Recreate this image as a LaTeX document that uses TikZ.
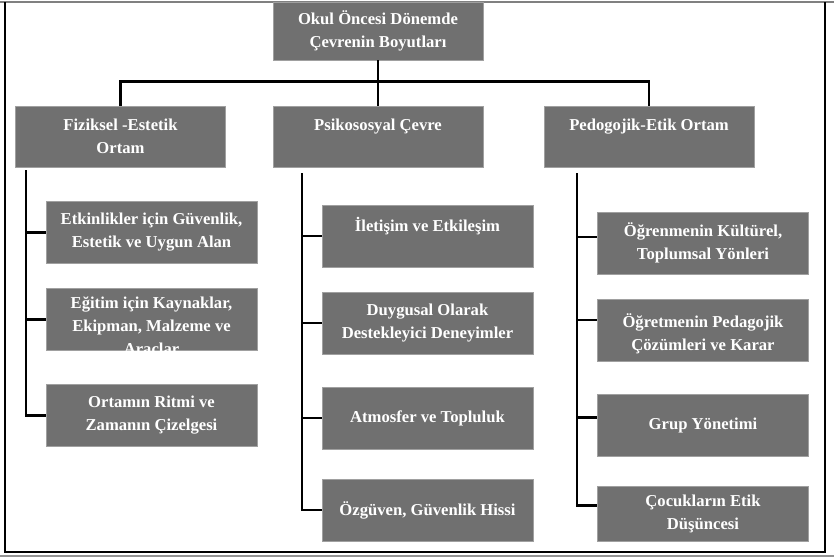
\documentclass[tikz,border=0pt]{standalone}
\usepackage{fontspec}
\setmainfont{Liberation Serif}
\usetikzlibrary{calc}
\definecolor{cajagris}{RGB}{112,112,112}
\definecolor{bordegris}{RGB}{160,160,160}
\definecolor{letrablanca}{RGB}{255,255,255}
\begin{document}
\begin{tikzpicture}[x=0.03cm,y=-0.03cm,
  caja/.style={fill=cajagris,draw=bordegris,line width=0.6pt,text=letrablanca,align=center,
    font=\bfseries\fontsize{14.2}{19.6}\selectfont,inner sep=0pt,
    minimum width=6.3cm,minimum height=1.83cm},
  cajab/.style={caja,minimum width=6.33cm,minimum height=1.86cm},
  texto/.style={text=letrablanca,align=center,font=\bfseries\fontsize{14.2}{19.6}\selectfont,inner sep=0pt},
  linea/.style={line width=2.3pt,black}]
\useasboundingbox (0,0) rectangle (834,557);
% marco
\draw[line width=1.5pt,gray] (0,2) -- (834,2);
\draw[line width=1.5pt,gray!85] (0,556) -- (834,556);
\draw[line width=1.3pt] (5,2) -- (5,552) -- (825,552) -- (825,2);
% nivel 1 y 2
\node[caja,minimum height=1.74cm] (okul) at (378,31) {Okul Öncesi Dönemde\\Çevrenin Boyutları};
\node[caja] (fiz) at (120.5,136.5) {Fiziksel -Estetik\\Ortam};
\node[caja] (psi) at (378,136.5) {Psikososyal Çevre\\\mbox{}};
\node[caja] (ped) at (649,136.5) {Pedogojik-Etik Ortam\\\mbox{}};
\draw[linea] (okul.south) -- (psi.north);
\draw[linea] (fiz.north) -- ++(0,-24) -| (ped.north);
% nivel 3
\node[cajab] (f1) at (151.5,232.5) {Etkinlikler için Güvenlik,\\Estetik ve Uygun Alan};
\node[cajab] (f2) at (151.5,319.5) {};
\node[texto] (f2t) at (151.5,327) {Eğitim için Kaynaklar,\\Ekipman, Malzeme ve\\Araçlar};
\node[cajab] (f3) at (151.5,415.5) {Ortamın Ritmi ve\\Zamanın Çizelgesi};
\node[cajab] (s1) at (427.5,236) {İletişim ve Etkileşim\\\mbox{}};
\node[cajab] (s2) at (427.5,323) {Duygusal Olarak\\Destekleyici Deneyimler};
\node[cajab] (s3) at (427.5,418) {Atmosfer ve Topluluk};
\node[cajab] (s4) at (427.5,510) {Özgüven, Güvenlik Hissi};
\node[cajab] (p1) at (703,243) {Öğrenmenin Kültürel,\\Toplumsal Yönleri};
\node[cajab] (p2) at (703,330) {};
\node[texto] (p2t) at (703,344) {Öğretmenin Pedagojik\\Çözümleri ve Karar\\Verme};
\node[cajab] (p3) at (703,425.5) {Grup Yönetimi};
\node[cajab,minimum height=1.65cm] (p4) at (703,513.5) {Çocukların Etik\\Düşüncesi};
% troncos
\coordinate (t1) at (26,170);
\coordinate (t2) at (302,173);
\coordinate (t3) at (577,173);
\draw[linea] (t1) |- (f1.west);
\draw[linea] (t1) |- (f2.west);
\draw[linea] (t1) |- (f3.west);
\draw[linea] (t2) |- (s1.west);
\draw[linea] (t2) |- (s2.west);
\draw[linea] (t2) |- (s3.west);
\draw[linea] (t2) |- (s4.west);
\draw[linea] (t3) |- ($(p1.west)+(0,-6)$);
\draw[linea] (t3) |- ($(p2.west)+(0,-10)$);
\draw[linea] (t3) |- ($(p3.west)+(0,-8)$);
\draw[linea] (t3) |- ($(p4.west)+(0,-8)$);
\end{tikzpicture}
\end{document}
